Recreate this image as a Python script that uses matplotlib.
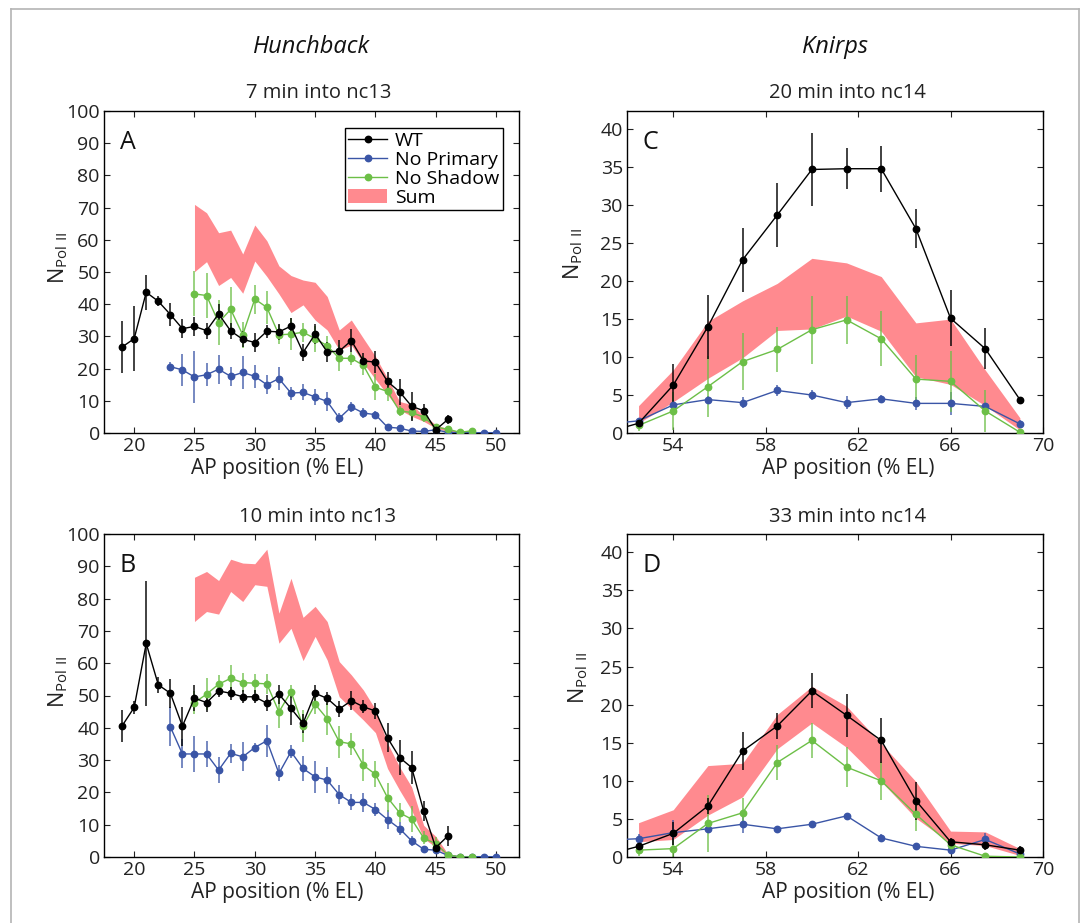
import matplotlib
matplotlib.use('Agg')
import matplotlib.pyplot as plt
from matplotlib.lines import Line2D
from matplotlib.patches import Patch

plt.rcParams['font.family'] = ['Open Sans', 'DejaVu Sans']
plt.rcParams['mathtext.fontset'] = 'custom'
plt.rcParams['mathtext.rm'] = 'Open Sans'

# ---------------- Hunchback data ----------------
hb_x_wt = list(range(19, 47))
hb_x_np = list(range(23, 51))
hb_x_ns = list(range(25, 49))

hbA_wt = [26.7, 29.3, 43.7, 40.9, 36.8, 32.4, 33.1, 31.8, 37.0, 31.7, 29.1, 28.1, 31.6, 31.4,
          33.2, 25.0, 30.7, 25.2, 25.4, 28.7, 22.4, 22.0, 16.0, 12.8, 8.3, 6.9, 1.0, 4.2]
hbA_wt_err = [8, 10, 5.5, 1.5, 3.5, 3, 3, 2.5, 3, 2.5, 2.5, 3, 2, 2.5,
              2.5, 2.5, 3, 3, 3.5, 3.5, 2.5, 3.5, 3, 4, 4.5, 2, 0.5, 1.5]
hbA_np = [20.6, 19.6, 17.4, 18.1, 19.8, 17.6, 18.8, 17.6, 15.0, 16.9, 12.4, 12.6, 11.2, 9.8,
          4.6, 8.1, 6.2, 5.7, 1.8, 1.5, 0.6, 0.5, 1.0, 0.2, 0.1, 0.1, 0.1, 0.1]
hbA_np_err = [1.5, 5, 8, 3.5, 4.5, 3, 5, 3.5, 3, 3.5, 2, 2.5, 2.5, 3,
              1.5, 1.5, 1.5, 1, 0.5, 0.5, 0.3, 0.3, 0.5, 0.2, 0.1, 0.1, 0.1, 0.1]
hbA_ns = [43.2, 42.7, 34.3, 38.4, 30.5, 41.6, 39.0, 30.5, 30.7, 31.3, 29.3, 27.1, 23.2, 23.2,
          21.0, 14.2, 12.9, 6.8, 6.4, 4.9, 1.8, 1.2, 0.2, 0.7]
hbA_ns_err = [7, 7, 7, 7, 4, 4.5, 5, 3, 5, 3, 4, 3, 4, 2, 3, 4, 3, 1.5, 2.5, 1.5, 0.8, 0.5, 0.2, 0.3]
hbA_sum_hi = [71, 68.4, 62.2, 63.0, 55.6, 64.6, 59.7, 51.9, 48.9, 47.5, 46.8, 42.4, 32.0, 35.1,
              29.4, 23.8, 17.0, 9.8, 8.8, 5.4, 2.6, 1.2, 0.5, 0.8]
hbA_sum_lo = [50.1, 53.2, 45.8, 48.3, 43.4, 53.4, 48.6, 43.2, 37.4, 39.8, 35.1, 32.0, 25.8, 27.3,
              21.7, 16.7, 11.9, 7.2, 5.2, 3.6, 1.5, 0.5, 0.1, 0.3]

hbB_wt = [40.6, 46.3, 66.1, 53.3, 50.7, 40.5, 49.2, 47.8, 51.4, 50.7, 49.6, 49.6, 47.6, 50.4,
          46.0, 41.4, 50.7, 49.1, 45.8, 48.4, 46.5, 45.2, 36.9, 30.8, 27.7, 14.2, 2.9, 6.5]
hbB_wt_err = [5, 2, 19.5, 2.5, 4.5, 6, 4, 3, 2, 2, 2, 2, 2.5, 3,
              5, 3, 2.5, 2, 2.5, 3, 2, 2.5, 4.5, 5.5, 5, 3, 1.5, 3]
hbB_np = [40.3, 31.9, 31.9, 31.9, 26.9, 32.1, 31.0, 33.9, 36.0, 25.9, 32.6, 27.4, 24.8, 23.8,
          19.3, 16.9, 16.9, 14.7, 11.6, 8.8, 5.0, 2.4, 2.1, 0.5, 0.1, 0.1, 0.1, 0.1]
hbB_np_err = [6, 4.5, 5.5, 4, 4, 3, 4.5, 1.5, 5, 2.5, 2, 4, 5, 4,
              3, 2.5, 3, 2, 3, 2, 1.5, 1, 1, 0.3, 0.1, 0.1, 0.1, 0.1]
hbB_ns = [47.8, 50.4, 53.5, 55.3, 54.0, 53.8, 53.6, 44.9, 51.2, 40.5, 47.3, 42.8, 35.7, 35.0,
          28.4, 25.6, 18.4, 13.7, 11.7, 5.9, 4.1, 0.7, 0.0, 0.0]
hbB_ns_err = [3.5, 5, 3, 4, 3, 3, 3, 5, 2, 5, 3, 5, 5, 3.5, 5, 4, 4.5, 3, 4, 2, 2, 0.5, 0.1, 0.1]
hbB_sum_hi = [86.6, 88.4, 85.6, 92.2, 91.0, 90.8, 95.3, 75.5, 86.3, 74.2, 77.6, 72.9, 60.5, 56.4,
              51.7, 45.7, 35.2, 27.9, 21.7, 9.8, 6.4, 1.0, 0.3, 0.2]
hbB_sum_lo = [72.9, 76.0, 75.2, 82.2, 79.1, 84.3, 83.8, 66.2, 70.8, 60.8, 68.3, 61.0, 49.6, 46.0,
              42.4, 38.5, 27.4, 20.7, 14.5, 5.7, 3.1, 0.3, 0.0, 0.0]

# ---------------- Knirps data ----------------
kn_x_all = [51.0, 52.5, 54.0, 55.5, 57.0, 58.5, 60.0, 61.5, 63.0, 64.5, 66.0, 67.5, 69.0]
kn_x = kn_x_all[1:]

knC_wt = [0.0, 1.28, 6.3, 14.0, 22.8, 28.7, 34.7, 34.8, 34.8, 26.9, 15.1, 11.1, 4.4]
knC_wt_err = [0.3, 0.3, 2.8, 4.2, 4.2, 4.2, 4.8, 2.7, 3.0, 2.6, 3.7, 2.7, 0.3]
knC_np = [1.15, 1.6, 3.7, 4.4, 4.0, 5.6, 5.0, 4.0, 4.5, 3.9, 3.9, 3.5, 1.2]
knC_np_err = [0.3, 0.4, 0.6, 0.5, 0.7, 0.7, 0.7, 0.9, 0.5, 0.9, 1.5, 0.5, 0.5]
knC_ns = [1.0, 2.9, 6.1, 9.4, 11.0, 13.6, 14.9, 12.4, 7.1, 6.8, 2.9, 0.1]
knC_ns_err = [0.8, 2.5, 4.0, 3.8, 3.0, 4.5, 3.2, 3.6, 3.2, 4.0, 2.8, 0.1]
knC_sum_hi = [3.6, 8.3, 14.7, 17.4, 19.7, 23.0, 22.4, 20.6, 14.5, 15.0, 8.3, 2.0]
knC_sum_lo = [1.3, 4.1, 7.2, 9.9, 13.5, 13.7, 15.4, 13.4, 7.4, 6.4, 3.6, 0.4]

knD_wt = [0.2, 1.4, 3.1, 6.7, 13.9, 17.2, 21.8, 18.6, 15.3, 7.4, 2.0, 1.6, 0.9]
knD_wt_err = [0.2, 0.8, 1.5, 1.0, 2.5, 1.7, 2.3, 2.8, 3.0, 2.5, 0.5, 0.7, 0.6]
knD_np = [2.2, 2.4, 3.2, 3.7, 4.3, 3.7, 4.3, 5.4, 2.5, 1.4, 0.9, 2.3, 0.4]
knD_np_err = [0.3, 0.6, 1.6, 0.6, 1.2, 0.3, 0.4, 0.3, 0.5, 0.2, 0.2, 0.8, 0.2]
knD_ns = [0.9, 1.1, 4.4, 5.8, 12.4, 15.3, 11.8, 10.0, 5.6, 1.6, 0.1, 0.0]
knD_ns_err = [0.8, 1.1, 3.7, 1.9, 2.3, 2.3, 2.6, 2.5, 2.2, 0.3, 0.1, 0.1]
knD_sum_hi = [4.5, 6.2, 12.0, 12.3, 18.7, 22.4, 19.8, 14.9, 9.9, 3.4, 3.3, 1.1]
knD_sum_lo = [2.0, 2.3, 5.5, 7.9, 14.2, 17.6, 14.4, 9.9, 5.1, 1.8, 1.5, 0.2]

C_WT = '#000000'
C_NP = '#3a55a6'
C_NS = '#6cbf47'
C_SUM = '#ff8a8f'

fig = plt.figure(figsize=(10.83, 9.23), dpi=100)
W, H = 1083, 923


def ax_rect(l, r, t, b):
    return [l / W, 1 - b / H, (r - l) / W, (b - t) / H]


axA = fig.add_axes(ax_rect(104, 519, 111, 433))
axB = fig.add_axes(ax_rect(104, 519, 534, 857))
axC = fig.add_axes(ax_rect(627, 1043, 111, 433))
axD = fig.add_axes(ax_rect(627, 1043, 534, 857))


def draw(ax, xw, wt, wte, xn, npv, npe, xs, ns, nse, sum_lo, sum_hi):
    ax.fill_between(xs, sum_lo, sum_hi, color=C_SUM, lw=0, zorder=1)
    for x, y, e, c, a in [(xn, npv, npe, C_NP, 0.75), (xs, ns, nse, C_NS, 0.75), (xw, wt, wte, C_WT, 0.8)]:
        ax.errorbar(x, y, yerr=e, fmt='none', ecolor=c, elinewidth=1.3, capsize=0, alpha=a, zorder=2)
    ax.plot(xn, npv, '-o', color=C_NP, lw=1.0, ms=4.6, zorder=3)
    ax.plot(xs, ns, '-o', color=C_NS, lw=1.0, ms=4.6, zorder=3)
    ax.plot(xw, wt, '-o', color=C_WT, lw=1.0, ms=4.6, zorder=4)


draw(axA, hb_x_wt, hbA_wt, hbA_wt_err, hb_x_np, hbA_np, hbA_np_err, hb_x_ns, hbA_ns, hbA_ns_err, hbA_sum_lo, hbA_sum_hi)
draw(axB, hb_x_wt, hbB_wt, hbB_wt_err, hb_x_np, hbB_np, hbB_np_err, hb_x_ns, hbB_ns, hbB_ns_err, hbB_sum_lo, hbB_sum_hi)
draw(axC, kn_x_all, knC_wt, knC_wt_err, kn_x_all, knC_np, knC_np_err, kn_x, knC_ns, knC_ns_err, knC_sum_lo, knC_sum_hi)
draw(axD, kn_x_all, knD_wt, knD_wt_err, kn_x_all, knD_np, knD_np_err, kn_x, knD_ns, knD_ns_err, knD_sum_lo, knD_sum_hi)

titles = {axA: '7 min into nc13', axB: '10 min into nc13', axC: '20 min into nc14', axD: '33 min into nc14'}
title_x = {axA: 0.517, axB: 0.515, axC: 0.530, axD: 0.530}
letters = {axA: 'A', axB: 'B', axC: 'C', axD: 'D'}
xlab_pos = {axA: 0.417, axB: 0.417, axC: 0.531, axD: 0.531}
ylab_pos = {axA: (-0.082, 0.543), axB: (-0.082, 0.542), axC: (-0.101, 0.556), axD: (-0.088, 0.554)}

for ax in (axA, axB):
    ax.set_xlim(17.5, 51.9)
    ax.set_ylim(0, 100)
    ax.set_xticks([20, 25, 30, 35, 40, 45, 50])
    ax.set_yticks(range(0, 101, 10))
for ax in (axC, axD):
    ax.set_xlim(52, 70)
    ax.set_ylim(0, 42.4)
    ax.set_xticks([54, 58, 62, 66, 70])
    ax.set_yticks(range(0, 41, 5))

for ax in (axA, axB, axC, axD):
    ax.tick_params(direction='in', top=True, right=True, length=4, width=0.8,
                   labelsize=14, pad=3, colors='#222222', labelcolor='#222222')
    for s in ax.spines.values():
        s.set_linewidth(1.0)
    ax.set_xlabel('AP position (% EL)', fontsize=15, color='#222222')
    ax.xaxis.set_label_coords(xlab_pos[ax], -0.078)
    ax.set_ylabel(r'$\mathregular{N_{Pol\ II}}$', fontsize=15.5, color='#222222')
    ax.yaxis.set_label_coords(*ylab_pos[ax])
    ax.set_title(titles[ax], fontsize=14.5, pad=9, color='#222222', x=title_x[ax])
    ax.text(0.038, 0.94, letters[ax], transform=ax.transAxes, ha='left', va='top',
            fontsize=18, color='#111111')

handles = [Line2D([], [], color=C_WT, marker='o', ms=4.6, lw=1.0),
           Line2D([], [], color=C_NP, marker='o', ms=4.6, lw=1.0),
           Line2D([], [], color=C_NS, marker='o', ms=4.6, lw=1.0),
           Patch(facecolor=C_SUM, edgecolor='none')]
leg = axA.legend(handles, ['WT', 'No Primary', 'No Shadow', 'Sum'], loc='upper right',
                 bbox_to_anchor=(0.962, 0.948), fontsize=14, frameon=True, fancybox=False,
                 edgecolor='black', framealpha=1, handlelength=2.0, handletextpad=0.4,
                 borderpad=0.2, labelspacing=0.05, borderaxespad=0)
leg.get_frame().set_linewidth(1.0)

fig.text(311.5 / W, 1 - 47 / H, 'Hunchback', ha='center', va='center', fontsize=17,
         style='italic', color='#111111')
fig.text(835 / W, 1 - 47 / H, 'Knirps', ha='center', va='center', fontsize=17,
         style='italic', color='#111111')

# light grey frame around the figure
fc = '#b4b4b4'
fig.add_artist(Line2D([11 / W, 11 / W], [0, 1 - 9 / H], color=fc, lw=1.2, transform=fig.transFigure))
fig.add_artist(Line2D([11 / W, 1079 / W], [1 - 9 / H, 1 - 9 / H], color=fc, lw=1.2, transform=fig.transFigure))
fig.add_artist(Line2D([1079 / W, 1079 / W], [0, 1 - 9 / H], color=fc, lw=1.2, transform=fig.transFigure))

fig.savefig('out.png', dpi=100)
